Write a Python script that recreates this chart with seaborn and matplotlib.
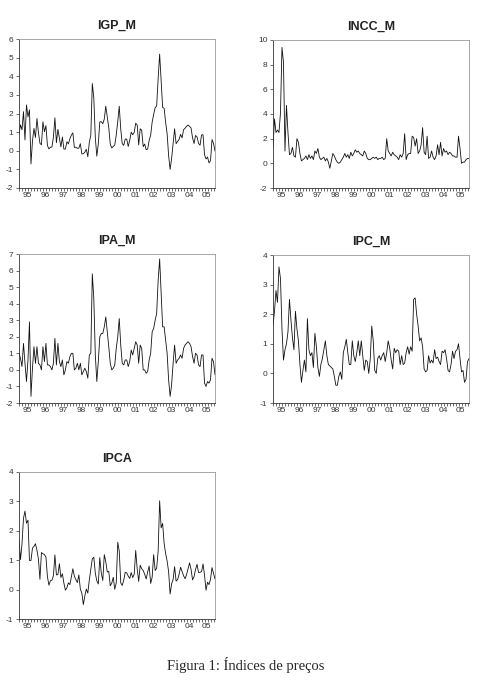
import numpy as np
import pandas as pd
import matplotlib
matplotlib.use("Agg")
import matplotlib.pyplot as plt
import seaborn as sns

sns.set_theme(style="white")
plt.rcParams["font.family"] = ["Liberation Sans", "DejaVu Sans"]
plt.rcParams["axes.unicode_minus"] = False

# Monthly % change, 1995:01 - 2005:12
igp_m = [
    0.92, 1.39, 1.12, 2.10, 0.58, 2.46, 1.82, 2.20, -0.71, 0.52, 1.20, 0.71,
    1.73, 0.97, 0.40, 0.32, 1.55, 1.02, 1.35, 0.28, 0.10, 0.19, 0.20, 0.73,
    1.77, 0.43, 1.15, 0.68, 0.21, 0.74, 0.09, 0.09, 0.48, 0.37, 0.64, 0.84,
    0.96, 0.18, 0.19, 0.13, 0.14, 0.38, -0.17, -0.16, -0.08, 0.08, -0.32, 0.45,
    0.84, 3.61, 2.83, 0.71, -0.29, 0.36, 1.55, 1.56, 1.45, 1.70, 2.39, 1.81,
    1.24, 0.35, 0.15, 0.23, 0.31, 0.85, 1.57, 2.39, 1.16, 0.38, 0.29, 0.63,
    0.62, 0.23, 0.56, 1.00, 0.86, 0.98, 1.48, 1.38, 0.31, 1.18, 1.10, 0.22,
    0.36, 0.06, 0.09, 0.56, 0.83, 1.54, 1.95, 2.32, 2.40, 3.87, 5.19, 3.75,
    2.33, 2.28, 1.53, 0.92, -0.26, -1.00, -0.42, 0.38, 1.18, 0.38, 0.49, 0.61,
    0.88, 0.69, 1.13, 1.21, 1.31, 1.38, 1.31, 1.22, 0.69, 0.39, 0.82, 0.74,
    0.39, 0.30, 0.85, 0.86, -0.22, -0.44, -0.34, -0.65, -0.53, 0.60, 0.40, -0.01,
]
incc_m = [
    1.3, 3.6, 2.5, 2.7, 2.5, 4.1, 9.4, 8.2, 1.0, 4.7, 2.5, 0.7,
    0.8, 1.3, 0.6, 0.5, 2.0, 1.7, 0.8, 0.2, 0.3, 0.4, 0.6, 0.3,
    0.7, 0.4, 0.6, 0.3, 1.0, 0.8, 1.2, 0.5, 0.3, 0.4, 0.5, 0.2,
    0.4, 0.1, -0.4, 0.2, 0.8, 0.6, 0.3, 0.1, 0.0, 0.1, 0.3, 0.5,
    0.8, 0.5, 0.7, 0.4, 0.9, 0.6, 0.8, 1.1, 0.9, 1.0, 0.8, 0.7,
    0.6, 1.0, 0.8, 0.4, 0.3, 0.3, 0.4, 0.5, 0.4, 0.5, 0.3, 0.4,
    0.4, 0.5, 0.3, 0.4, 2.0, 1.0, 0.8, 0.6, 0.9, 0.7, 0.6, 0.5,
    0.3, 0.7, 0.5, 0.8, 2.4, 0.3, 0.7, 0.8, 0.8, 2.2, 2.1, 1.4,
    2.0, 0.8, 1.0, 1.5, 2.9, 0.9, 0.7, 2.2, 0.4, 0.5, 1.0, 0.5,
    0.3, 0.6, 1.5, 0.7, 1.7, 0.6, 1.2, 0.9, 1.0, 0.7, 0.9, 0.8,
    0.6, 0.6, 0.5, 0.5, 2.2, 1.2, 0.0, 0.1, 0.1, 0.3, 0.4, 0.4,
]
ipa_m = [
    1.0, 0.7, 0.2, 1.6, 0.4, -0.7, 0.6, 2.9, -1.6, 0.1, 1.4, 0.4,
    1.4, 0.4, 0.3, 0.0, 1.4, 0.5, 1.6, 0.3, 0.3, 0.2, 0.0, 0.4,
    1.9, 0.3, 1.6, 0.5, 0.2, 0.6, -0.3, 0.0, 0.5, 0.4, 0.8, 1.0,
    1.0, 0.0, 0.1, 0.4, 0.0, 0.4, -0.3, -0.1, 0.1, -0.1, -0.5, 0.9,
    1.0, 5.8, 4.3, 0.9, -0.7, 0.5, 2.0, 2.2, 2.2, 2.6, 3.2, 2.3,
    1.4, 0.4, 0.0, 0.1, 0.3, 1.3, 2.0, 3.1, 1.5, 0.4, 0.3, 0.6,
    0.6, 0.2, 0.5, 1.2, 0.9, 1.3, 1.7, 1.5, 0.4, 1.5, 1.3, 0.0,
    0.0, -0.2, -0.1, 0.6, 1.0, 2.3, 2.5, 3.0, 3.4, 5.4, 6.7, 4.7,
    2.6, 2.6, 1.8, 1.0, -0.6, -1.6, -0.9, 0.4, 1.5, 0.4, 0.6, 0.7,
    0.9, 0.7, 1.3, 1.5, 1.6, 1.7, 1.6, 1.4, 0.8, 0.4, 1.0, 0.9,
    0.3, 0.2, 0.9, 0.9, -0.8, -1.0, -0.7, -0.8, -0.6, 0.7, 0.5, -0.3,
]
ipc_m = [
    1.6, 2.1, 2.8, 2.4, 3.6, 3.2, 1.5, 0.45, 0.8, 1.0, 1.4, 2.5,
    1.8, 1.2, 0.8, 2.1, 1.5, 1.1, 0.3, -0.3, 0.1, 0.45, 0.05, 1.85,
    0.8, 0.6, 0.7, 0.2, 1.35, 0.9, 0.2, -0.1, 0.3, 0.5, 0.8, 1.1,
    0.6, 0.3, 0.25, 0.2, 0.15, -0.1, -0.4, -0.4, -0.1, 0.05, -0.2, 0.7,
    0.9, 1.15, 0.7, 0.3, 0.3, 1.1, 0.6, 0.4, 0.7, 1.1, 0.6, 1.1,
    0.6, 0.1, 0.45, 0.4, 0.0, 0.5, 1.6, 1.1, 0.1, 0.0, 0.5, 0.6,
    0.45, 0.6, 0.7, 0.4, 0.7, 1.1, 0.85, 0.45, 0.15, 0.85, 0.7, 0.8,
    0.75, 0.3, 0.6, 0.3, 0.35, 0.7, 0.9, 0.65, 0.9, 0.75, 2.5, 2.55,
    2.0, 1.6, 1.1, 1.2, 0.9, 0.15, 0.05, 0.1, 0.6, 0.35, 0.45, 0.35,
    0.8, 0.5, 0.55, 0.4, 0.3, 0.75, 0.7, 0.8, 0.5, 0.1, 0.05, 0.3,
    0.75, 0.5, 0.75, 0.8, 1.0, 0.5, 0.05, 0.1, -0.3, -0.2, 0.4, 0.5,
]
ipca = [
    1.70, 1.02, 1.55, 2.43, 2.67, 2.26, 2.36, 0.99, 0.99, 1.41, 1.47, 1.56,
    1.34, 1.03, 0.35, 1.26, 1.22, 1.19, 1.11, 0.44, 0.15, 0.30, 0.32, 0.47,
    1.18, 0.50, 0.51, 0.88, 0.41, 0.54, 0.22, -0.02, 0.06, 0.23, 0.17, 0.43,
    0.71, 0.46, 0.34, 0.24, 0.50, 0.02, -0.12, -0.51, -0.22, 0.02, -0.12, 0.33,
    0.70, 1.05, 1.10, 0.56, 0.30, 0.19, 1.09, 0.56, 0.31, 1.19, 0.95, 0.60,
    0.62, 0.13, 0.22, 0.42, 0.01, 0.23, 1.61, 1.31, 0.23, 0.14, 0.32, 0.59,
    0.57, 0.46, 0.38, 0.58, 0.41, 0.52, 1.33, 0.70, 0.28, 0.83, 0.71, 0.65,
    0.52, 0.36, 0.60, 0.80, 0.21, 0.42, 1.19, 0.65, 0.72, 1.31, 3.02, 2.10,
    2.25, 1.57, 1.23, 0.97, 0.61, -0.15, 0.20, 0.34, 0.78, 0.29, 0.34, 0.52,
    0.76, 0.61, 0.47, 0.37, 0.51, 0.71, 0.91, 0.69, 0.33, 0.44, 0.69, 0.86,
    0.58, 0.59, 0.61, 0.87, 0.49, -0.02, 0.25, 0.17, 0.35, 0.75, 0.55, 0.36,
]

years = list(range(1995, 2006))
year_labels = [f"{y % 100:02d}" for y in years]

t = 1995 + np.arange(132) / 12
df = pd.DataFrame({"t": t, "IGP_M": igp_m, "INCC_M": incc_m,
                   "IPA_M": ipa_m, "IPC_M": ipc_m, "IPCA": ipca})

W, H = 489, 692
fig = plt.figure(figsize=(W / 100, H / 100), dpi=100)

# (name, left, top, right, bottom) in pixels, y limits, y step
panels = [
    ("IGP_M", 19, 39, 215, 188, (-2, 6), 1),
    ("INCC_M", 273, 40, 469, 188, (-2, 10), 2),
    ("IPA_M", 19, 254, 215, 403, (-2, 7), 1),
    ("IPC_M", 273, 255, 469, 403, (-1, 4), 1),
    ("IPCA", 19, 472, 215, 619, (-1, 4), 1),
]

for name, l, tp, r, b, ylim, step in panels:
    ax = fig.add_axes([l / W, 1 - b / H, (r - l) / W, (b - tp) / H])
    sns.lineplot(data=df, x="t", y=name, ax=ax, color="#111111", linewidth=0.6)
    ax.set_xlim(t[0], t[-1])
    ax.set_ylim(*ylim)
    ax.set_xlabel("")
    ax.set_ylabel("")
    ax.set_xticks([y + 5.5 / 12 for y in years])
    ax.set_xticklabels(year_labels)
    ax.set_xticks(np.arange(1995, 2006, 2 / 12), minor=True)
    ax.set_yticks(np.arange(ylim[0], ylim[1] + 1, step))
    ax.tick_params(axis="x", which="major", length=0, labelsize=6, pad=3,
                   colors="#333333")
    ax.tick_params(axis="x", which="minor", length=2, width=0.5,
                   color="#333333", bottom=True)
    ax.tick_params(axis="y", which="major", length=2.5, width=0.5, left=True,
                   labelsize=6, pad=1.5, colors="#333333")
    for side in ["left", "bottom"]:
        ax.spines[side].set_color("#333333")
        ax.spines[side].set_linewidth(0.6)
    for side in ["top", "right"]:
        ax.spines[side].set_color("#999999")
        ax.spines[side].set_linewidth(0.6)
    ax.set_title(name, fontsize=9, fontweight="bold", pad=7.5, color="#222222")

fig.text(246 / W, 1 - 665 / H, "Figura 1: Índices de preços",
         ha="center", va="center", fontsize=10.5,
         family=["Liberation Serif", "DejaVu Serif"])

fig.savefig("out.png", dpi=100)
